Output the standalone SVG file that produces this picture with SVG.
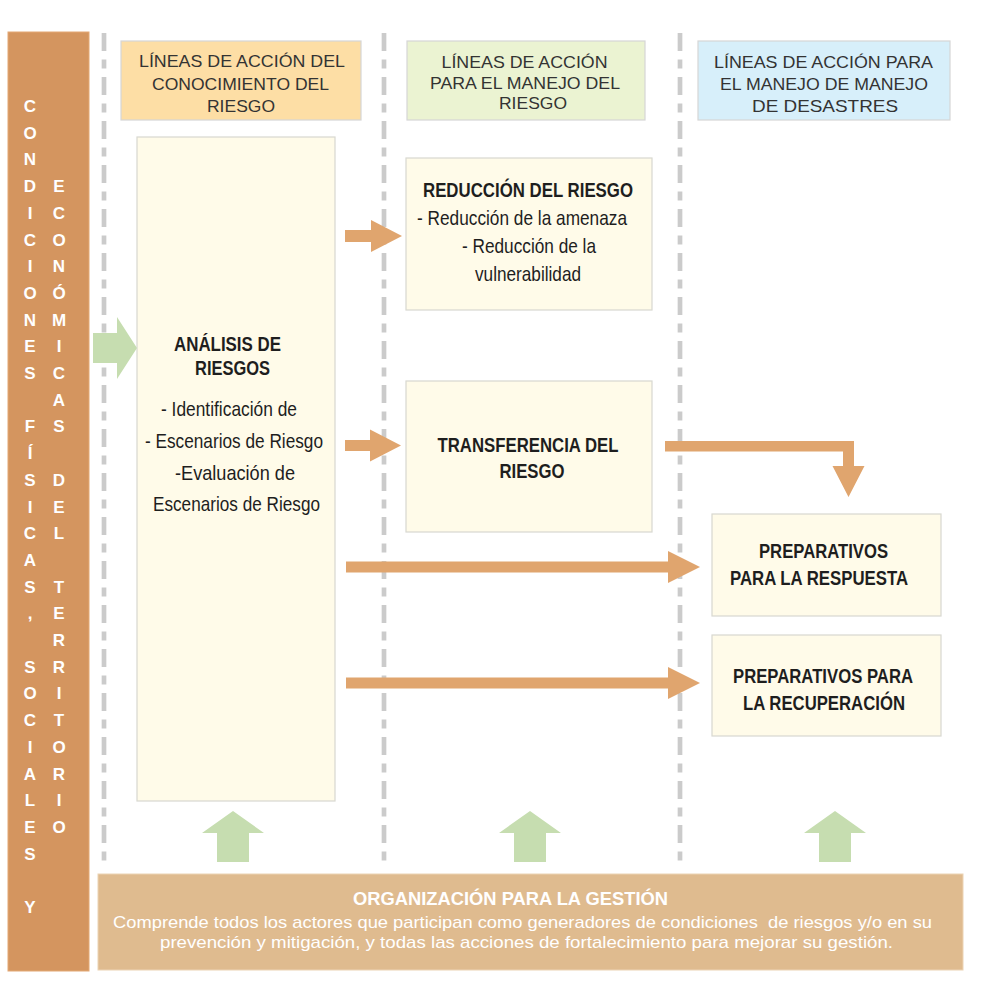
<svg xmlns="http://www.w3.org/2000/svg" width="982" height="981" viewBox="0 0 982 981">
<style>
.bg{fill:#ffffff}
.dash{stroke:#cbcbcb;stroke-width:4.7;stroke-dasharray:18 8.5 9 8.5;fill:none}
.node{fill:#fffbe9;stroke:#d8d8d0;stroke-width:1.2}
.hdr{font-family:"Liberation Sans",Arial,sans-serif;font-size:17px;fill:#333333;text-anchor:middle}
.nb{font-family:"Liberation Sans Narrow","Liberation Sans",Arial,sans-serif;font-size:20.5px;font-weight:bold;fill:#1e1e1e;text-anchor:middle}
.nr{font-family:"Liberation Sans Narrow","Liberation Sans",Arial,sans-serif;font-size:21px;fill:#1e1e1e;text-anchor:middle}
.vl{font-family:"Liberation Sans",Arial,sans-serif;font-size:17px;font-weight:bold;fill:#ffffff;text-anchor:middle}
.orng{fill:#e0a56e}
.grn{fill:#c6ddb0}
.bt{font-family:"Liberation Sans",Arial,sans-serif;font-size:17px;fill:#ffffff;text-anchor:middle}
.btt{font-family:"Liberation Sans",Arial,sans-serif;font-size:18px;font-weight:bold;fill:#ffffff;text-anchor:middle}
</style>
<rect class="bg" x="0" y="0" width="982" height="981"/>

<g id="separators">
<line class="dash" x1="104" y1="33" x2="104" y2="866"/>
<line class="dash" x1="384" y1="33" x2="384" y2="866"/>
<line class="dash" x1="680" y1="33" x2="680" y2="866"/>
</g>

<g id="condiciones">
<rect x="8" y="32" width="81" height="939" fill="#d4955f" stroke="#e3a874" stroke-width="1"/>
<text class="vl">
<tspan x="30" y="112">C</tspan><tspan x="30" y="138.7">O</tspan><tspan x="30" y="165.4">N</tspan><tspan x="30" y="192.1">D</tspan><tspan x="30" y="218.8">I</tspan><tspan x="30" y="245.5">C</tspan><tspan x="30" y="272.2">I</tspan><tspan x="30" y="298.9">O</tspan><tspan x="30" y="325.6">N</tspan><tspan x="30" y="352.3">E</tspan><tspan x="30" y="379">S</tspan><tspan x="30" y="432.4">F</tspan><tspan x="30" y="459.1">Í</tspan><tspan x="30" y="485.8">S</tspan><tspan x="30" y="512.5">I</tspan><tspan x="30" y="539.2">C</tspan><tspan x="30" y="565.9">A</tspan><tspan x="30" y="592.6">S</tspan><tspan x="30" y="619.3">,</tspan><tspan x="30" y="672.7">S</tspan><tspan x="30" y="699.4">O</tspan><tspan x="30" y="726.1">C</tspan><tspan x="30" y="752.8">I</tspan><tspan x="30" y="779.5">A</tspan><tspan x="30" y="806.2">L</tspan><tspan x="30" y="832.9">E</tspan><tspan x="30" y="859.6">S</tspan><tspan x="30" y="913">Y</tspan>
</text>
<text class="vl">
<tspan x="59" y="192.1">E</tspan><tspan x="59" y="218.8">C</tspan><tspan x="59" y="245.5">O</tspan><tspan x="59" y="272.2">N</tspan><tspan x="59" y="298.9">Ó</tspan><tspan x="59" y="325.6">M</tspan><tspan x="59" y="352.3">I</tspan><tspan x="59" y="379">C</tspan><tspan x="59" y="405.7">A</tspan><tspan x="59" y="432.4">S</tspan><tspan x="59" y="485.8">D</tspan><tspan x="59" y="512.5">E</tspan><tspan x="59" y="539.2">L</tspan><tspan x="59" y="592.6">T</tspan><tspan x="59" y="619.3">E</tspan><tspan x="59" y="646">R</tspan><tspan x="59" y="672.7">R</tspan><tspan x="59" y="699.4">I</tspan><tspan x="59" y="726.1">T</tspan><tspan x="59" y="752.8">O</tspan><tspan x="59" y="779.5">R</tspan><tspan x="59" y="806.2">I</tspan><tspan x="59" y="832.9">O</tspan>
</text>
</g>

<g id="header-conocimiento">
<rect x="121" y="41" width="240" height="79" fill="#fddea5" stroke="#d6d6d6" stroke-width="1.2"/>
<text class="hdr" x="242" y="67" textLength="206" lengthAdjust="spacingAndGlyphs">LÍNEAS DE ACCIÓN DEL</text>
<text class="hdr" x="240.5" y="90" textLength="177" lengthAdjust="spacingAndGlyphs">CONOCIMIENTO DEL</text>
<text class="hdr" x="241" y="112" textLength="68" lengthAdjust="spacingAndGlyphs">RIESGO</text>
</g>

<g id="header-manejo-riesgo">
<rect x="407" y="41" width="238" height="79" fill="#ebf3d2" stroke="#d6d6d6" stroke-width="1.2"/>
<text class="hdr" x="524.5" y="67.5" textLength="166" lengthAdjust="spacingAndGlyphs">LÍNEAS DE ACCIÓN</text>
<text class="hdr" x="525" y="88.5" textLength="190" lengthAdjust="spacingAndGlyphs">PARA EL MANEJO DEL</text>
<text class="hdr" x="533" y="108.5" textLength="68" lengthAdjust="spacingAndGlyphs">RIESGO</text>
</g>

<g id="header-desastres">
<rect x="698" y="41" width="252" height="79" fill="#d7effa" stroke="#d6d6d6" stroke-width="1.2"/>
<text class="hdr" x="823.5" y="67.5" textLength="219" lengthAdjust="spacingAndGlyphs">LÍNEAS DE ACCIÓN PARA</text>
<text class="hdr" x="824" y="90" textLength="208" lengthAdjust="spacingAndGlyphs">EL MANEJO DE MANEJO</text>
<text class="hdr" x="825" y="112" textLength="146" lengthAdjust="spacingAndGlyphs">DE DESASTRES</text>
</g>

<g id="analisis">
<rect class="node" x="137" y="137" width="198" height="664"/>
<text class="nb" x="227.5" y="351" textLength="107" lengthAdjust="spacingAndGlyphs">ANÁLISIS DE</text>
<text class="nb" x="232.5" y="375" textLength="75" lengthAdjust="spacingAndGlyphs">RIESGOS</text>
<text class="nr" x="229" y="416" textLength="136" lengthAdjust="spacingAndGlyphs">- Identificación de</text>
<text class="nr" x="234" y="448" textLength="178" lengthAdjust="spacingAndGlyphs">- Escenarios de Riesgo</text>
<text class="nr" x="235" y="480" textLength="120" lengthAdjust="spacingAndGlyphs">-Evaluación de</text>
<text class="nr" x="236.5" y="511" textLength="167" lengthAdjust="spacingAndGlyphs">Escenarios de Riesgo</text>
</g>

<g id="reduccion">
<rect class="node" x="406" y="158" width="246" height="152"/>
<text class="nb" x="528" y="197" textLength="210" lengthAdjust="spacingAndGlyphs">REDUCCIÓN DEL RIESGO</text>
<text class="nr" x="522" y="225" textLength="210" lengthAdjust="spacingAndGlyphs">- Reducción de la amenaza</text>
<text class="nr" x="529" y="252.5" textLength="134" lengthAdjust="spacingAndGlyphs">- Reducción de la</text>
<text class="nr" x="528" y="280.5" textLength="106" lengthAdjust="spacingAndGlyphs">vulnerabilidad</text>
</g>

<g id="transferencia">
<rect class="node" x="406" y="381" width="246" height="151"/>
<text class="nb" x="528" y="451.5" textLength="181" lengthAdjust="spacingAndGlyphs">TRANSFERENCIA DEL</text>
<text class="nb" x="532" y="478" textLength="65" lengthAdjust="spacingAndGlyphs">RIESGO</text>
</g>

<g id="preparativos-respuesta">
<rect class="node" x="712" y="514" width="229" height="102"/>
<text class="nb" x="823.5" y="557.5" textLength="129" lengthAdjust="spacingAndGlyphs">PREPARATIVOS</text>
<text class="nb" x="819" y="584.5" textLength="178" lengthAdjust="spacingAndGlyphs">PARA LA RESPUESTA</text>
</g>

<g id="preparativos-recuperacion">
<rect class="node" x="712" y="635" width="229" height="101"/>
<text class="nb" x="823" y="682.5" textLength="180" lengthAdjust="spacingAndGlyphs">PREPARATIVOS PARA</text>
<text class="nb" x="824" y="709.5" textLength="162" lengthAdjust="spacingAndGlyphs">LA RECUPERACIÓN</text>
</g>

<g id="organizacion">
<rect x="98" y="874" width="865" height="96" fill="#dfbb8f" stroke="#ecd3b4" stroke-width="1"/>
<text class="btt" x="510.5" y="905" textLength="315" lengthAdjust="spacingAndGlyphs">ORGANIZACIÓN PARA LA GESTIÓN</text>
<text class="bt" x="522.5" y="927.5" xml:space="preserve" textLength="819" lengthAdjust="spacingAndGlyphs">Comprende todos los actores que participan como generadores de condiciones  de riesgos y/o en su</text>
<text class="bt" x="526.5" y="948" textLength="733" lengthAdjust="spacingAndGlyphs">prevención y mitigación, y todas las acciones de fortalecimiento para mejorar su gestión.</text>
</g>

<g id="connectors">
<polygon class="grn" points="93,333 117,333 117,317 137,348 117,379 117,363 93,363"/>
<polygon class="orng" points="345,230 371,230 371,220 402,236 371,252 371,242 345,242"/>
<polygon class="orng" points="345,440 370,440 370,429.5 401,445.5 370,461.5 370,451 345,451"/>
<polygon class="orng" points="346,561.5 668,561.5 668,551 700,567 668,583 668,572.5 346,572.5"/>
<polygon class="orng" points="346,677.5 668,677.5 668,667 700,683 668,699 668,688.5 346,688.5"/>
<polygon class="orng" points="665,441 854,441 854,466 864.5,466 848.5,497 832.5,466 843,466 843,451.5 665,451.5"/>
<polygon class="grn" points="217,862 217,833 202,833 233,811 264,833 249,833 249,862"/>
<polygon class="grn" points="514,862 514,833 499,833 530,811 561,833 546,833 546,862"/>
<polygon class="grn" points="819,862 819,833 804,833 835,811 866,833 851,833 851,862"/>
</g>
</svg>
